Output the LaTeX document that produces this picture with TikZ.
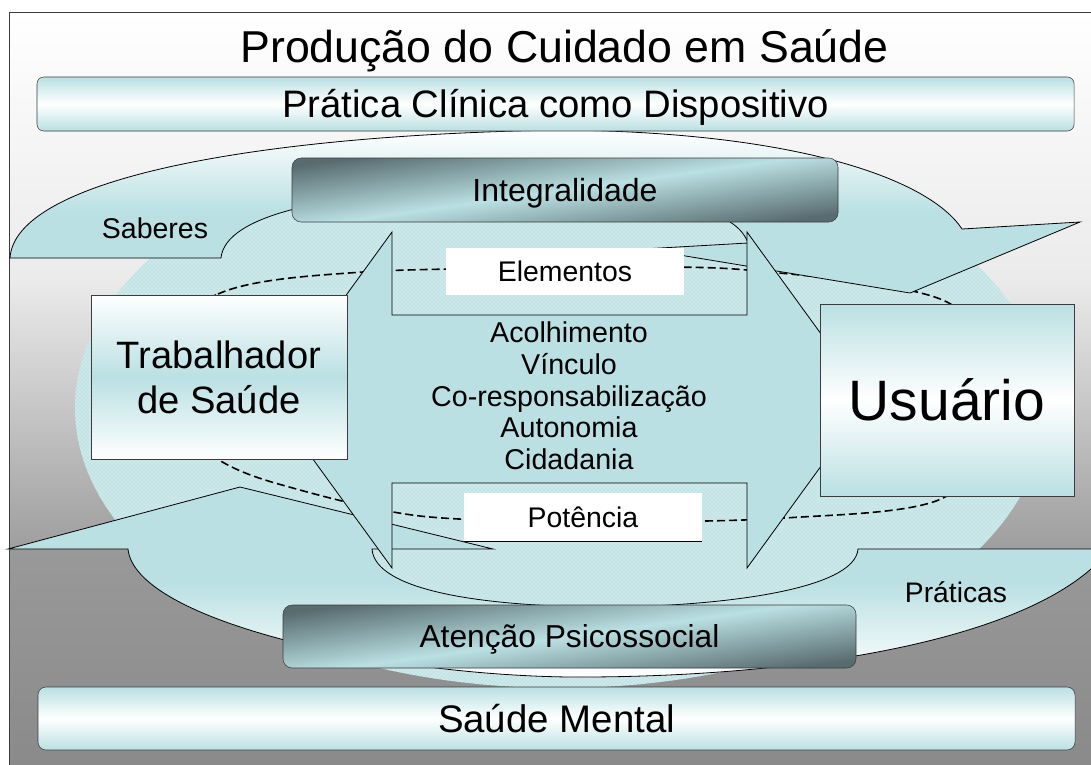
\documentclass[tikz,border=0pt]{standalone}
\usepackage{fontspec}
\setmainfont{Liberation Sans}
\usepackage{tikz}
\usetikzlibrary{patterns}
\definecolor{cyanfill}{RGB}{186,224,227}
\definecolor{slate}{RGB}{88,108,112}
\definecolor{boxline}{RGB}{60,60,60}
\tikzstyle{light box}=[draw=boxline, rounded corners=5pt, top color=cyanfill, bottom color=cyanfill, middle color=white, inner sep=0pt]
\tikzstyle{dark box}=[draw=boxline, rounded corners=7pt, top color=slate, bottom color=slate, middle color=cyanfill, shading angle=8, inner sep=0pt]
\tikzstyle{actor box}=[draw=boxline, inner sep=0pt]
\tikzstyle{white box}=[fill=white, inner sep=0pt, minimum width=178.5pt, text height=15.2pt, text depth=0pt, font=\fontsize{21.3}{25}\selectfont]
\tikzstyle{band}=[draw=black, line width=0.6pt]

\begin{document}
\begin{tikzpicture}[x=0.75pt,y=-0.75pt]
\useasboundingbox (0,0) rectangle (1091,764);
% fundo
\shade[top color=white, bottom color=black!38, middle color=black!8] (9,12) rectangle (1100,549);
\shade[top color=black!40, bottom color=black!46] (9,549) rectangle (1100,770);
\draw[boxline] (9,770) -- (9,12) -- (1100,12);
% elipse e tracejado
\path[fill=cyanfill!90!white, postaction={pattern=crosshatch dots, pattern color=white}] (560,408) ellipse [x radius=485, y radius=280];
\draw[line width=1.2pt, dash pattern=on 6pt off 3pt] plot[smooth cycle] coordinates {(120,380) (218,294) (363,272) (582,268) (747,270) (947,302) (1000,400) (945,497) (785,518) (582,522) (420,516) (300,490) (219,460)};
% setas curvas
\path[band, top color=white, bottom color=cyanfill, middle color=cyanfill] (10,258) .. controls (15,180) and (250,135) .. (560,130) .. controls (800,132) and (930,180) .. (962,229) -- (1080,222) -- (910,293) -- (643,249) -- (748,243) .. controls (735,205) and (650,190) .. (480,190) .. controls (330,192) and (225,215) .. (221,258) -- cycle;
\path[band, top color=cyanfill, bottom color=white, middle color=cyanfill] (1110,549) -- (858,549) .. controls (855,590) and (720,606) .. (610,607) .. controls (480,607) and (375,590) .. (372,549) -- (493,549) -- (240,487) -- (8,549) -- (128,549) .. controls (135,620) and (380,675) .. (570,677) .. controls (800,678) and (1040,640) .. (1110,549) -- cycle;
% seta dupla
\path[band, fill=cyanfill] (270,400) -- (392,232) -- (392,315) -- (747,315) -- (747,232) -- (869,400) -- (747,568) -- (747,483) -- (392,483) -- (392,568) -- cycle;
% caixas
\node[light box, minimum width=777.75pt, minimum height=40.5pt, text height=20.5pt, text depth=0pt, font=\fontsize{28.7}{34}\selectfont] (pratica) at (555.5,104) {Prática Clínica como Dispositivo};
\node[dark box, minimum width=409.5pt, minimum height=48pt, text height=17.2pt, text depth=0pt, font=\fontsize{24}{28}\selectfont] (integ) at (565,190) {Integralidade};
\node[dark box, minimum width=429.75pt, minimum height=47.25pt, text height=17pt, text depth=0pt, font=\fontsize{23.8}{28}\selectfont] (atencao) at (569.5,636.5) {Atenção Psicossocial};
\node[light box, rounded corners=6pt, minimum width=777.75pt, minimum height=47.25pt, text height=20.6pt, text depth=0pt, font=\fontsize{28.8}{34}\selectfont] (saude) at (556.5,718.5) {Saúde Mental};
\node[actor box, top color=white, bottom color=white, middle color=cyanfill, minimum width=192pt, minimum height=123pt, align=center, font=\fontsize{28.6}{33.75}\selectfont] (trab) at (219,377) {Trabalhador\\de Saúde};
\node[actor box, top color=cyanfill, bottom color=cyanfill, middle color=white, minimum width=190.5pt, minimum height=144pt, text height=30.6pt, text depth=0pt, font=\fontsize{42.75}{50}\selectfont] (usu) at (947,400) {Usuário};
\node[white box, minimum height=35.25pt] (elem) at (565,271.5) {Elementos};
\node[white box, minimum height=36pt] (pot) at (583,517) {Potência};
\draw[black] (pot.south west) -- (pot.south east);
% textos
\node[anchor=base, font=\fontsize{33.5}{40}\selectfont] (titulo) at (564.5,62) {Produção do Cuidado em Saúde};
\node[anchor=base, font=\fontsize{21.4}{25}\selectfont] (saberes) at (155,238) {Saberes};
\node[anchor=base, font=\fontsize{21.2}{25}\selectfont] (praticas) at (956,602) {Práticas};
\node[align=center, font=\fontsize{21.5}{23.8}\selectfont] (lista) at (569,396) {Acolhimento\\Vínculo\\Co-responsabilização\\Autonomia\\Cidadania};
\end{tikzpicture}
\end{document}
